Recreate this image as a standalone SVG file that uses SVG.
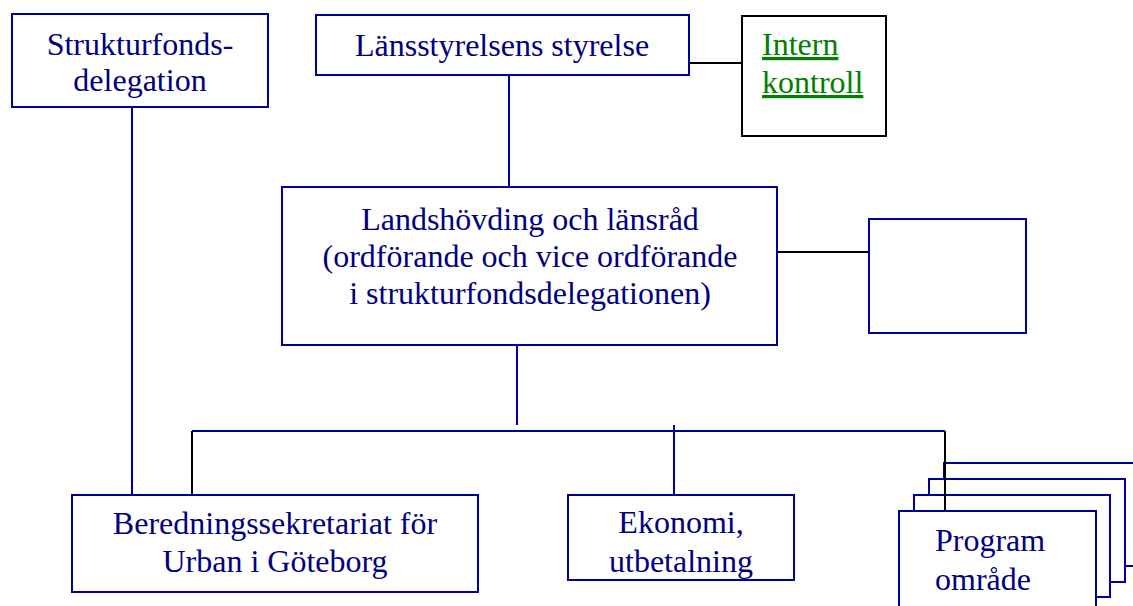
<svg xmlns="http://www.w3.org/2000/svg" width="1133" height="606" viewBox="0 0 1133 606">
<style>
.box{fill:#ffffff;stroke:#000099;stroke-width:2}
.kbox{fill:#ffffff;stroke:#000000;stroke-width:2}
.bl{stroke:#000099;stroke-width:2;fill:none}
.bk{stroke:#000000;stroke-width:2;fill:none}
text{font-size:32px;fill:#000080}
.c{text-anchor:middle}
.g{fill:#008000;text-decoration:underline}
</style>
<rect width="1133" height="606" fill="#ffffff"/>
<g id="connectors">
<line class="bl" x1="132" y1="107" x2="132" y2="495"/>
<line class="bl" x1="509" y1="75" x2="509" y2="187"/>
<line class="bk" x1="689" y1="63" x2="742" y2="63"/>
<line class="bk" x1="777" y1="252" x2="869" y2="252"/>
<line class="bl" x1="517" y1="345" x2="517" y2="425"/>
<line class="bl" x1="192" y1="431" x2="945" y2="431"/>
<line class="bk" x1="192" y1="431" x2="192" y2="495"/>
<line class="bl" x1="674" y1="425" x2="674" y2="495"/>
</g>
<g font-family="Liberation Serif, DejaVu Serif, serif">
<g id="strukturfondsdelegation">
<rect class="box" x="12" y="14" width="256" height="93"/>
<text class="c" x="140" y="55">Strukturfonds-</text>
<text class="c" x="140" y="91">delegation</text>
</g>
<g id="lansstyrelsens-styrelse">
<rect class="box" x="316" y="15" width="373" height="60"/>
<text class="c" x="502" y="56">Länsstyrelsens styrelse</text>
</g>
<g id="intern-kontroll">
<rect class="kbox" x="742" y="16" width="144" height="120"/>
<text class="g" x="762" y="55">Intern</text>
<text class="g" x="762" y="93">kontroll</text>
</g>
<g id="landshovding">
<rect class="box" x="282" y="187" width="495" height="158"/>
<text class="c" x="530" y="230">Landshövding och länsråd</text>
<text class="c" x="530" y="267">(ordförande och vice ordförande</text>
<text class="c" x="530" y="304">i strukturfondsdelegationen)</text>
</g>
<g id="empty-box">
<rect class="box" x="869" y="219" width="157" height="114"/>
</g>
<g id="beredningssekretariat">
<rect class="box" x="72" y="495" width="406" height="97"/>
<text class="c" x="275" y="534">Beredningssekretariat för</text>
<text class="c" x="275" y="572">Urban i Göteborg</text>
</g>
<g id="ekonomi">
<rect class="box" x="568" y="495" width="226" height="85"/>
<text class="c" x="681" y="533">Ekonomi,</text>
<text class="c" x="681" y="572">utbetalning</text>
</g>
<g id="programomrade">
<rect class="box" x="944" y="463" width="196" height="103"/>
<rect class="box" x="929" y="479" width="196" height="103"/>
<rect class="box" x="914" y="495" width="196" height="102"/>
<rect class="box" x="899" y="511" width="197" height="102"/>
<line class="bk" x1="945" y1="431" x2="945" y2="511"/>
<text x="935" y="551">Program</text>
<text x="935" y="590">område</text>
</g>
</g>
</svg>
